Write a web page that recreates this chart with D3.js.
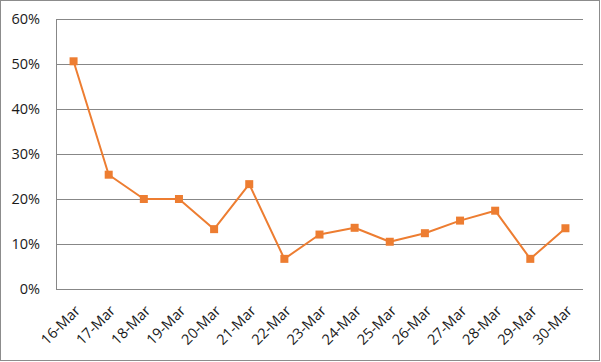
<!DOCTYPE html>
<html lang="en">
<head>
    <meta charset="UTF-8">
    <title>Daily rate</title>
    <script src="https://d3js.org/d3.v7.min.js"></script>
    <style>
        body { margin: 0; background: white; }
        svg { display: block; }
        .tick-label { font-family: "Open Sans", Calibri, sans-serif; font-size: 14.5px; fill: #1a1a1a; }
    </style>
</head>
<body>
    <svg id="chart"></svg>
    <script>
        const dates = ["16-Mar", "17-Mar", "18-Mar", "19-Mar", "20-Mar", "21-Mar", "22-Mar", "23-Mar",
                       "24-Mar", "25-Mar", "26-Mar", "27-Mar", "28-Mar", "29-Mar", "30-Mar"];
        const rates = [0.506, 0.254, 0.200, 0.200, 0.133, 0.233, 0.067, 0.121,
                       0.136, 0.105, 0.124, 0.152, 0.174, 0.067, 0.135];
        const yTicks = [0, 0.1, 0.2, 0.3, 0.4, 0.5, 0.6];

        const width = 601, height = 362;
        const margin = { top: 19, right: 18, bottom: 73, left: 56 };
        const svg = d3.select("#chart").attr("width", width).attr("height", height);

        // outer frame
        svg.append("rect")
            .attr("x", 0.5).attr("y", 0.5)
            .attr("width", width - 2).attr("height", height - 2)
            .attr("fill", "white").attr("stroke", "#8c8c8c");

        const x = d3.scaleBand()
            .domain(dates)
            .range([margin.left, width - margin.right]);

        const y = d3.scaleLinear()
            .domain([0, 0.6])
            .range([height - margin.bottom, margin.top]);

        // gridlines
        svg.append("g").selectAll("line")
            .data(yTicks)
            .enter().append("line")
            .attr("x1", margin.left).attr("x2", width - margin.right)
            .attr("y1", d => Math.round(y(d)) + 0.5).attr("y2", d => Math.round(y(d)) + 0.5)
            .attr("stroke", "#878787").attr("stroke-width", 1);

        // left axis line
        svg.append("line")
            .attr("x1", margin.left + 0.5).attr("x2", margin.left + 0.5)
            .attr("y1", y(0.6)).attr("y2", y(0))
            .attr("stroke", "#878787");

        svg.append("g").selectAll("text")
            .data(yTicks)
            .enter().append("text")
            .attr("class", "tick-label")
            .attr("x", margin.left - 16)
            .attr("y", d => y(d))
            .attr("dy", "0.35em")
            .attr("text-anchor", "end")
            .text(d => d3.format(".0%")(d));

        // rotated category labels
        svg.append("g").selectAll("text")
            .data(dates)
            .enter().append("text")
            .attr("class", "tick-label")
            .attr("text-anchor", "end")
            .attr("transform", d => `translate(${x(d) + x.bandwidth() / 2 + 4},${y(0) + 19}) rotate(-45)`)
            .attr("dy", "0.35em")
            .text(d => d);

        const line = d3.line()
            .x((d, i) => x(dates[i]) + x.bandwidth() / 2)
            .y(d => y(d));

        svg.append("path")
            .datum(rates)
            .attr("fill", "none")
            .attr("stroke", "#ED7D31")
            .attr("stroke-width", 2)
            .attr("stroke-linejoin", "round")
            .attr("d", line);

        svg.append("g").selectAll("rect")
            .data(rates)
            .enter().append("rect")
            .attr("x", (d, i) => x(dates[i]) + x.bandwidth() / 2 - 4)
            .attr("y", d => y(d) - 4)
            .attr("width", 8).attr("height", 8)
            .attr("fill", "#ED7D31");
    </script>
</body>
</html>
